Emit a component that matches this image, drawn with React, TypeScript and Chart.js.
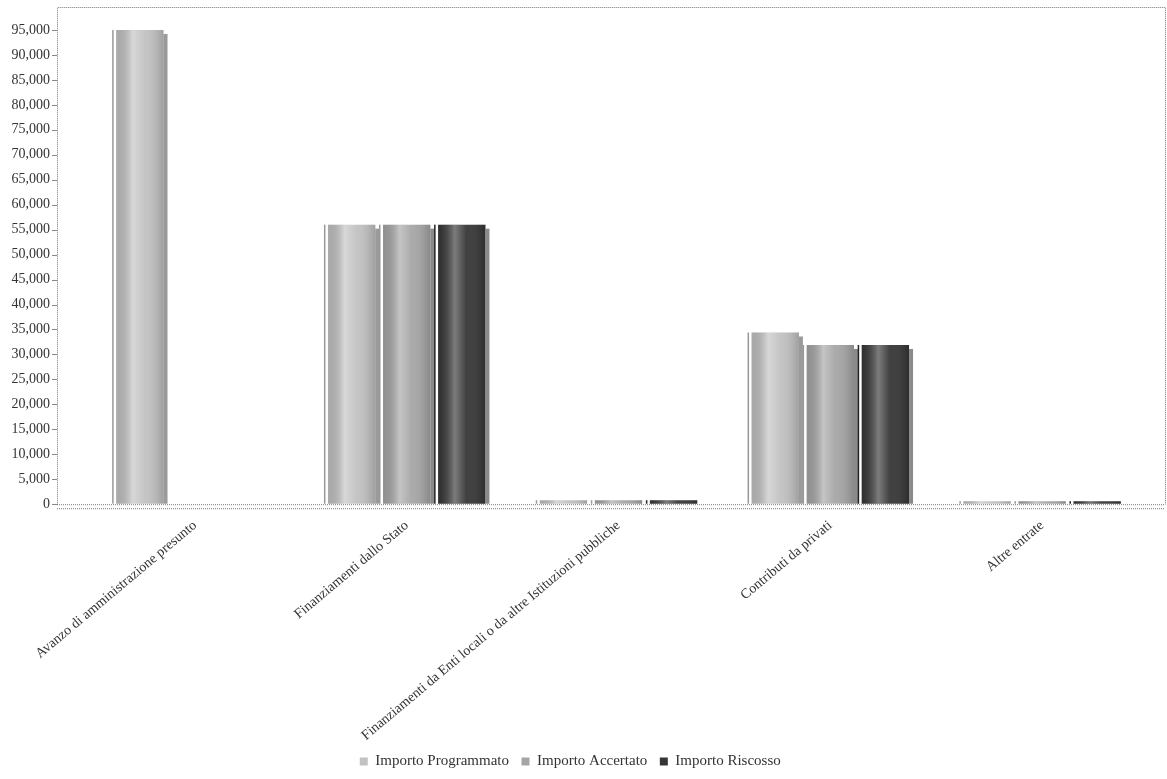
import React, { useEffect, useRef } from "react";
import { Chart, registerables } from "chart.js";

Chart.register(...registerables);

const categories = [
  "Avanzo di amministrazione presunto",
  "Finanziamenti dallo Stato",
  "Finanziamenti da Enti locali o da altre Istituzioni pubbliche",
  "Contributi da privati",
  "Altre entrate",
];
const seriesNames = ["Importo Programmato", "Importo Accertato", "Importo Riscosso"];
const programmato = [95000, 56000, 800, 34400, 600];
const accertato = [0, 56000, 800, 31900, 600];
const riscosso = [0, 56000, 800, 31900, 600];
const seriesColors = ["#c2c2c2", "#a6a6a6", "#363636"];
const shadowColors = ["#9a9a9a", "#8a8a8a", "#8a8a8a"];
const yTicks = [
  0, 5000, 10000, 15000, 20000, 25000, 30000, 35000, 40000, 45000, 50000,
  55000, 60000, 65000, 70000, 75000, 80000, 85000, 90000, 95000,
];
const yMax = 99600;

const FONT = "'Liberation Serif', 'DejaVu Serif', serif";

const framePlugin = {
  id: "frame",
  beforeDatasetsDraw(chart: any) {
    const { ctx, chartArea } = chart;
    const l = chartArea.left - 32;
    const r = chartArea.right + 17;
    const t = chartArea.top;
    const b = chartArea.bottom;
    ctx.save();
    ctx.strokeStyle = "#777";
    ctx.lineWidth = 1;
    ctx.setLineDash([1, 1]);
    ctx.beginPath();
    ctx.moveTo(l + 0.5, b + 0.5);
    ctx.lineTo(l + 0.5, t + 0.5);
    ctx.lineTo(r + 0.5, t + 0.5);
    ctx.lineTo(r + 0.5, b + 0.5);
    ctx.moveTo(l, b + 0.5);
    ctx.lineTo(r, b + 0.5);
    ctx.moveTo(l, b + 4.5);
    ctx.lineTo(r, b + 4.5);
    ctx.stroke();
    ctx.setLineDash([]);
    const ys = chart.scales.y;
    ctx.strokeStyle = "#888";
    ys.ticks.forEach((tk: any) => {
      const py = Math.round(ys.getPixelForValue(tk.value)) + 0.5;
      ctx.beginPath();
      ctx.moveTo(l - 5, py);
      ctx.lineTo(l, py);
      ctx.stroke();
    });
    ctx.restore();
  },
  afterDatasetsDraw(chart: any) {
    const { ctx } = chart;
    ctx.save();
    chart.data.datasets.forEach((ds: any, di: number) => {
      const meta = chart.getDatasetMeta(di);
      meta.data.forEach((el: any, i: number) => {
        if (!ds.data[i]) return;
        const { x, y, base, width } = el.getProps(["x", "y", "base", "width"], true);
        const left = x - width / 2;
        const right = x + width / 2;
        const h = base - y;
        const off = Math.min(4, h);
        ctx.fillStyle = shadowColors[di];
        ctx.fillRect(right, y + off, 4, Math.max(0, h - off));
        ctx.fillStyle = di === 2 ? "#222" : "#999";
        ctx.fillRect(left - 4, y, 1.5, h);
        const g = ctx.createLinearGradient(left, 0, right, 0);
        g.addColorStop(0, "rgba(0,0,0,0.12)");
        g.addColorStop(0.35, "rgba(255,255,255,0.35)");
        g.addColorStop(0.6, "rgba(255,255,255,0.05)");
        g.addColorStop(1, "rgba(0,0,0,0.18)");
        ctx.fillStyle = g;
        ctx.fillRect(left, y, width, h);
      });
    });
    ctx.restore();
  },
};

export default function App() {
  const ref = useRef<HTMLCanvasElement | null>(null);
  useEffect(() => {
    document.body.style.margin = "0";
    if (!ref.current) return;
    const chart = new Chart(ref.current, {
      type: "bar",
      data: {
        labels: categories,
        datasets: [programmato, accertato, riscosso].map((d, i) => ({
          label: seriesNames[i],
          data: d,
          backgroundColor: seriesColors[i],
          borderWidth: 0,
          categoryPercentage: 0.78,
          barPercentage: 0.86,
        })),
      },
      options: {
        animation: false,
        responsive: true,
        maintainAspectRatio: false,
        layout: { padding: { top: 7, right: 19, bottom: 0, left: 0 } },
        plugins: {
          legend: {
            position: "bottom",
            labels: {
              boxWidth: 8,
              boxHeight: 8,
              padding: 5,
              color: "#333",
              font: { family: FONT, size: 15 },
              generateLabels(chart: any) {
                const items = Chart.defaults.plugins.legend.labels.generateLabels(chart);
                return items.map((it: any) => ({ ...it, text: it.text + "  " }));
              },
            },
          },
          tooltip: { enabled: false },
        },
        scales: {
          x: {
            grid: { display: false },
            border: { display: false },
            ticks: {
              maxRotation: 40,
              minRotation: 40,
              autoSkip: false,
              padding: 5,
              color: "#333",
              font: { family: FONT, size: 14 },
            },
          },
          y: {
            min: 0,
            max: yMax,
            grid: {
              display: true,
              drawOnChartArea: false,
              drawTicks: true,
              tickLength: 35,
              color: "rgba(0,0,0,0)",
            },
            border: { display: false },
            afterFit(scale: any) {
              scale.width = 89;
              scale.paddingTop = 0;
              scale.paddingBottom = 0;
            },
            afterBuildTicks(scale: any) {
              scale.ticks = yTicks.map((v) => ({ value: v }));
            },
            ticks: {
              padding: 4,
              autoSkip: false,
              color: "#333",
              font: { family: FONT, size: 14 },
              callback: (v: any) => Number(v).toLocaleString("en-US"),
            },
          },
        },
      },
      plugins: [framePlugin],
    });
    return () => chart.destroy();
  }, []);
  return (
    <div style={{ width: 1167, height: 779, position: "relative", background: "#fff" }}>
      <canvas ref={ref} />
    </div>
  );
}
